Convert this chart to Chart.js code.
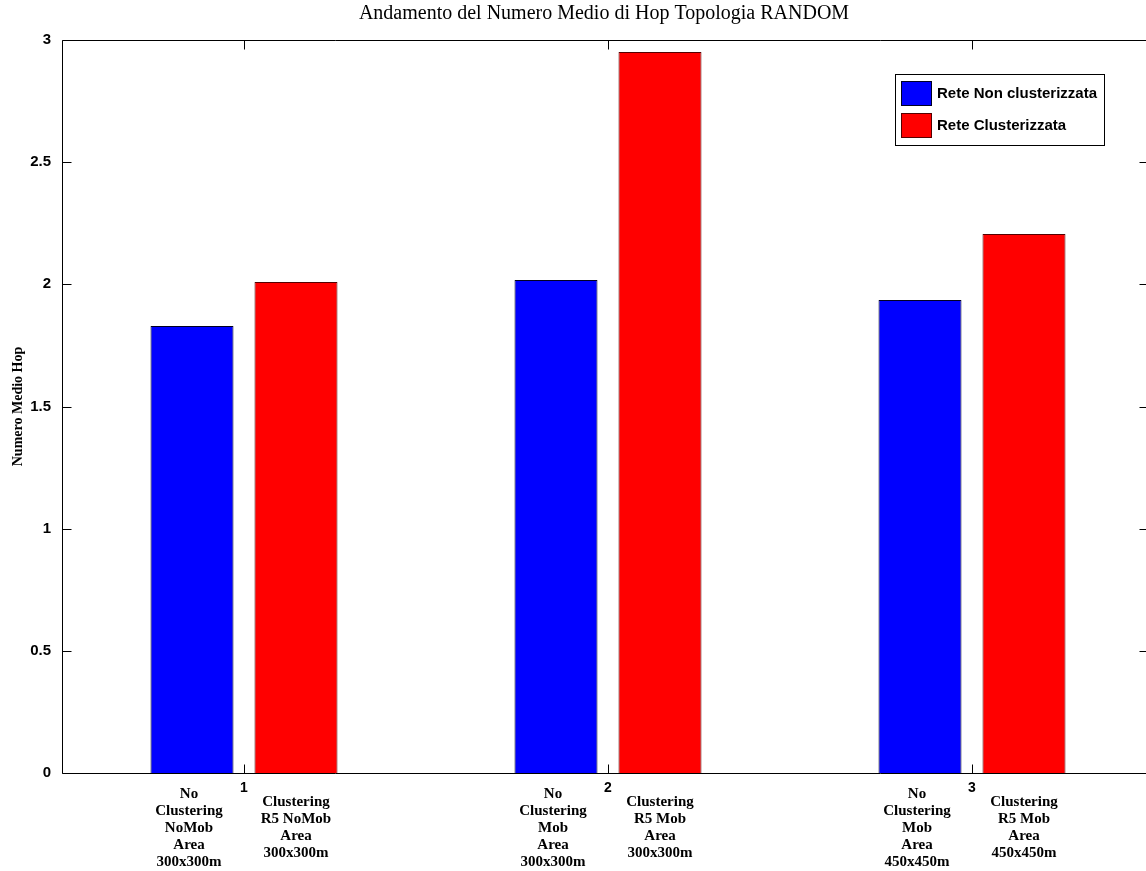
<!DOCTYPE html>
<html>
<head>
<meta charset="utf-8">
<script src="https://cdn.jsdelivr.net/npm/chart.js@4.4.1/dist/chart.umd.min.js"></script>
<style>
  html, body { margin: 0; padding: 0; background: #ffffff; overflow: hidden; }
  #wrap { width: 1146px; height: 871px; position: relative; overflow: hidden; }
  #c { position: absolute; left: 0; top: 0; }
</style>
</head>
<body>
<div id="wrap"><canvas id="c" width="1154" height="871"></canvas></div>
<script>
// ---- Data ----
const categories = ['1', '2', '3'];
const seriesNames = ['Rete Non clusterizzata', 'Rete Clusterizzata'];
const nonClusterValues = [1.829, 2.018, 1.936];
const clusterValues = [2.010, 2.951, 2.206];
const yTickValues = [0, 0.5, 1, 1.5, 2, 2.5, 3];
const nonClusterLabels = [
  ['No', 'Clustering', 'NoMob', 'Area', '300x300m'],
  ['No', 'Clustering', 'Mob', 'Area', '300x300m'],
  ['No', 'Clustering', 'Mob', 'Area', '450x450m']
];
const clusterLabels = [
  ['Clustering', 'R5 NoMob', 'Area', '300x300m'],
  ['Clustering', 'R5 Mob', 'Area', '300x300m'],
  ['Clustering', 'R5 Mob', 'Area', '450x450m']
];
const titleText = 'Andamento del Numero Medio di Hop Topologia RANDOM';
const yTitleText = 'Numero Medio Hop';

// ---- Styles ----
const BLUE = '#0000ff', RED = '#ff0000';
const SANS = '"Liberation Sans", Arial, sans-serif';
const SERIF = '"Liberation Serif", "Times New Roman", serif';

const decorPlugin = {
  id: 'decor',
  afterDatasetsDraw(chart) {
    const ctx = chart.ctx;
    const a = chart.chartArea;
    const xs = chart.scales.x, ys = chart.scales.y;
    ctx.save();
    ctx.strokeStyle = '#000';
    ctx.lineWidth = 1;
    const L = Math.round(a.left) + 0.5, T = Math.round(a.top) + 0.5, B = Math.round(a.bottom) + 0.5, R = Math.round(a.right) - 0.5;
    ctx.beginPath();
    ctx.moveTo(R, T); ctx.lineTo(L, T); ctx.lineTo(L, B); ctx.lineTo(R, B);
    ctx.moveTo(R, T); ctx.lineTo(R, B);
    ctx.stroke();
    // inward ticks on y (left and right)
    ctx.beginPath();
    yTickValues.forEach(v => {
      const y = Math.round(ys.getPixelForValue(v)) + 0.5;
      ctx.moveTo(L, y); ctx.lineTo(L + 9, y);
      ctx.moveTo(R, y); ctx.lineTo(R - 14, y);
    });
    // inward ticks on x (top & bottom)
    categories.forEach((c, i) => {
      const x = Math.round(xs.getPixelForValue(i)) + 0.5;
      ctx.moveTo(x, B); ctx.lineTo(x, B - 9);
      ctx.moveTo(x, T); ctx.lineTo(x, T + 9);
    });
    ctx.stroke();

    // title
    ctx.fillStyle = '#000';
    ctx.font = '20px ' + SERIF;
    ctx.textAlign = 'center';
    ctx.textBaseline = 'middle';
    ctx.fillText(titleText, 604, 14);

    // labels under each bar
    ctx.font = 'bold 15px ' + SERIF;
    const lh = 17;
    const centerY = a.bottom + 55;
    const groups = [nonClusterLabels, clusterLabels];
    groups.forEach((labels, di) => {
      const meta = chart.getDatasetMeta(di);
      meta.data.forEach((bar, i) => {
        const lines = labels[i];
        const y0 = centerY - (lines.length - 1) * lh / 2;
        lines.forEach((t, k) => ctx.fillText(t, bar.x - (di === 0 ? 3 : 0), y0 + k * lh));
      });
    });

    // legend
    const lx = 895, ly = 74, lw = 209, lhgt = 71;
    ctx.fillStyle = '#fff';
    ctx.fillRect(lx, ly, lw, lhgt);
    ctx.strokeStyle = '#000';
    ctx.strokeRect(lx + 0.5, ly + 0.5, lw, lhgt);
    ctx.textAlign = 'left';
    ctx.font = 'bold 15px ' + SANS;
    chart.data.datasets.forEach((ds, i) => {
      const sy = ly + 7 + i * 32;
      ctx.fillStyle = ds.backgroundColor;
      ctx.fillRect(lx + 6, sy, 31, 25);
      ctx.strokeStyle = ds.borderColor;
      ctx.strokeRect(lx + 6.5, sy + 0.5, 30, 24);
      ctx.fillStyle = '#000';
      ctx.fillText(ds.label, lx + 42, sy + 12.5);
    });
    ctx.restore();
  }
};

new Chart(document.getElementById('c'), {
  type: 'bar',
  data: {
    labels: categories,
    datasets: [
      { label: seriesNames[0], data: nonClusterValues, backgroundColor: BLUE, borderColor: '#000022', borderWidth: 1,
        categoryPercentage: 0.5714, barPercentage: 0.798 },
      { label: seriesNames[1], data: clusterValues, backgroundColor: RED, borderColor: '#550000', borderWidth: 1,
        categoryPercentage: 0.5714, barPercentage: 0.798 }
    ]
  },
  options: {
    responsive: false,
    animation: false,
    events: [],
    layout: { padding: { top: 40, left: 0, right: 0, bottom: 0 } },
    plugins: { legend: { display: false }, title: { display: false }, tooltip: { enabled: false } },
    scales: {
      x: {
        grid: { display: false, drawTicks: false },
        border: { display: false },
        ticks: { color: '#000', font: { family: SANS, size: 14, weight: 'bold' }, padding: 7, maxRotation: 0 },
        afterFit(s) { s.height = 98; }
      },
      y: {
        min: 0, max: 3,
        afterBuildTicks(s) { s.ticks = yTickValues.map(v => ({ value: v })); },
        grid: { display: false, drawTicks: false },
        border: { display: false },
        ticks: { color: '#000', font: { family: SANS, size: 15, weight: 'bold' }, padding: 11,
          callback: v => String(v) },
        title: { display: true, text: yTitleText, color: '#000',
          font: { family: SERIF, size: 14, weight: 'bold' }, padding: { top: 10, bottom: 0 } },
        afterFit(s) { s.width = 62; }
      }
    }
  },
  plugins: [decorPlugin]
});
</script>
</body>
</html>
